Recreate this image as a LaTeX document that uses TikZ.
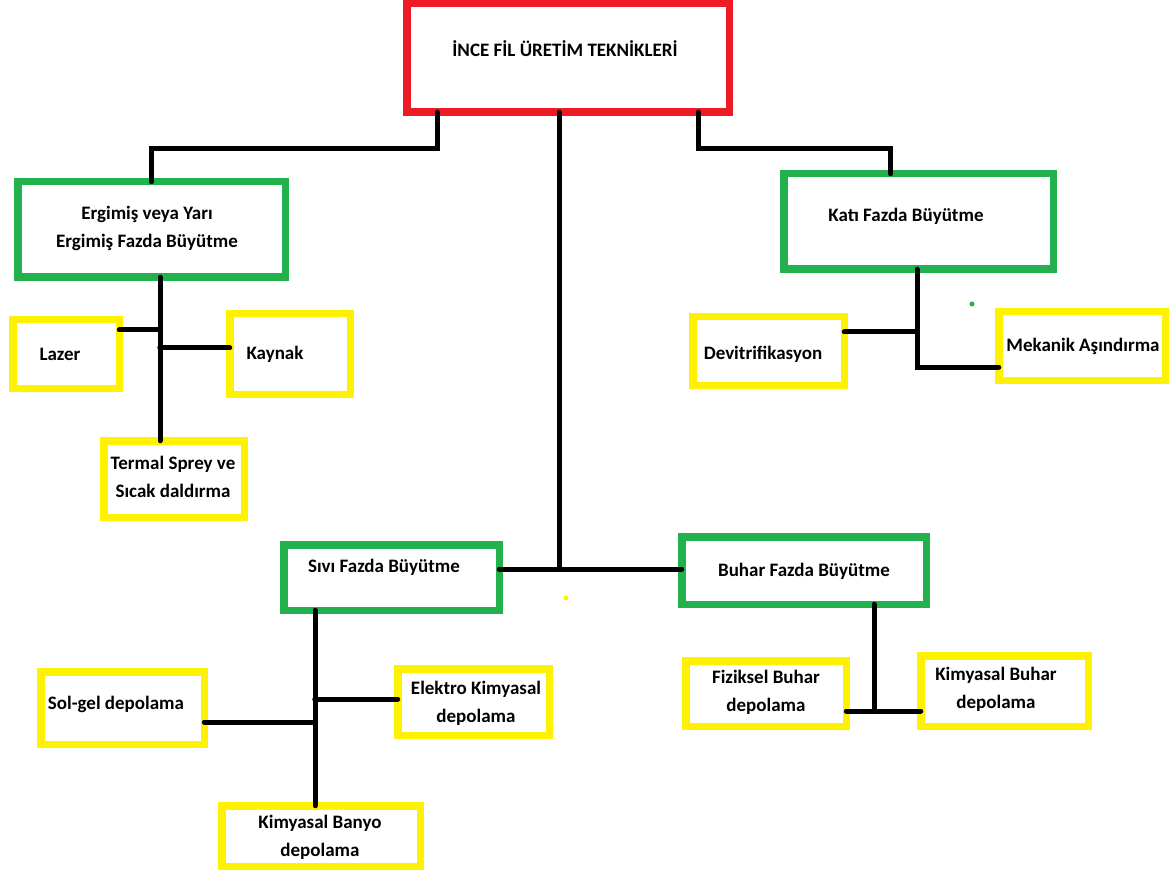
\documentclass[tikz,border=0pt]{standalone}
\usepackage{fontspec}
\setmainfont{Carlito}
\usepackage{xcolor}
\definecolor{pred}{HTML}{ED1C24}
\definecolor{pgreen}{HTML}{22B14C}
\definecolor{pyellow}{HTML}{FFF200}

\begin{document}
\begin{tikzpicture}[x=1pt, y=-1pt,
    bx/.style={rectangle, draw, line width=7.5pt, fill=white,
               outer sep=0pt, inner sep=0pt},
    rb/.style={bx, draw=pred},
    gb/.style={bx, draw=pgreen},
    yb/.style={bx, draw=pyellow},
    lbl/.style={font=\fontsize{19}{28}\selectfont\bfseries, align=center,
                inner sep=0pt},
    ln/.style={draw=black, line width=5pt, line cap=round}]
  \fill[white] (0,0) rectangle (1172,874);
  \useasboundingbox (0,0) rectangle (1172,874);

  % boxes
  \node[rb, minimum width=322.5pt, minimum height=108.5pt] (root) at (568,58) {};
  \node[gb, minimum width=267.5pt, minimum height=95.5pt] (ergimis) at (151.5,229.5) {};
  \node[gb, minimum width=269.5pt, minimum height=95.5pt] (kati) at (918.5,221.5) {};
  \node[gb, minimum width=215.5pt, minimum height=65.5pt] (sivi) at (391.5,577.5) {};
  \node[gb, minimum width=244.5pt, minimum height=67.5pt] (buhar) at (804,570.5) {};
  \node[yb, minimum width=106.5pt, minimum height=68.5pt] (lazer) at (66,354) {};
  \node[yb, minimum width=120.5pt, minimum height=80.5pt] (kaynak) at (290,354) {};
  \node[yb, minimum width=140.5pt, minimum height=76.5pt] (termal) at (174,479) {};
  \node[yb, minimum width=151.5pt, minimum height=68.5pt] (devit) at (768.5,351) {};
  \node[yb, minimum width=166.5pt, minimum height=68.5pt] (mekanik) at (1082,346) {};
  \node[yb, minimum width=160.5pt, minimum height=65.5pt] (fiziksel) at (766,693.5) {};
  \node[yb, minimum width=167.5pt, minimum height=70.5pt] (kbuhar) at (1004.5,691) {};
  \node[yb, minimum width=163.5pt, minimum height=72.5pt] (solgel) at (122.5,708) {};
  \node[yb, minimum width=151.5pt, minimum height=66.5pt] (elektro) at (473.5,702) {};
  \node[yb, minimum width=198.5pt, minimum height=60.5pt] (banyo) at (321,836) {};

  % texts
  \foreach \n/\p/\t in {
      root/{565,49}/{İNCE FİL ÜRETİM TEKNİKLERİ},
      ergimis/{147,228}/{Ergimiş veya Yarı\\Ergimiş Fazda Büyütme},
      kati/{906,216}/{Katı Fazda Büyütme},
      sivi/{384,567}/{Sıvı Fazda Büyütme},
      buhar/{804,571}/{Buhar Fazda Büyütme},
      lazer/{60,354}/{Lazer},
      kaynak/{275,354}/{Kaynak},
      termal/{173,477}/{Termal Sprey ve\\Sıcak daldırma},
      devit/{763,354}/{Devitrifikasyon},
      mekanik/{1083,346}/{Mekanik Aşındırma},
      fiziksel/{766,692}/{Fiziksel Buhar\\depolama},
      kbuhar/{996,689}/{Kimyasal Buhar\\depolama},
      solgel/{116,704}/{Sol-gel depolama},
      elektro/{476,703}/{Elektro Kimyasal\\depolama},
      banyo/{320,837}/{Kimyasal Banyo\\depolama}}
    \node[lbl] (\n-t) at (\p) {\t};

  % connectors
  \draw[ln] ([xshift=-131pt]root.south) -- ++(0,36) -| (ergimis.north);
  \draw[ln] ([xshift=130pt]root.south) -- ++(0,36) -| ([xshift=-28pt]kati.north);
  \coordinate (hub) at (559,569);
  \draw[ln] ([xshift=-9pt]root.south) -- (hub);
  \draw[ln] (sivi.east |- hub) -- (buhar.west |- hub);

  \draw[ln] ([xshift=8.5pt]ergimis.south) -- ([xshift=-14pt]termal.north);
  \draw[ln] ([yshift=24pt]lazer.east) -- ++(41,0);
  \draw[ln] ([yshift=6pt]kaynak.west) -- ++(-70,0);

  \draw[ln] ([xshift=-1.5pt]kati.south) |- ([yshift=-21pt]mekanik.west);
  \draw[ln] ([yshift=19pt]devit.east) -- ++(73,0);

  \draw[ln] ([xshift=-76.5pt]sivi.south) -- ([xshift=-6pt]banyo.north);
  \draw[ln] ([yshift=3pt]elektro.west) -- ++(-83,0);
  \draw[ln] ([yshift=-14pt]solgel.east) -- ++(111,0);

  \draw[ln] ([xshift=70pt]buhar.south) -- ++(0,107);
  \draw[ln] ([yshift=-17.5pt]fiziksel.east) -- ++(74.5,0);

  \fill[pgreen] (972,304) circle[radius=2.5];
  \fill[pyellow] (566,598) circle[radius=2.5];
\end{tikzpicture}
\end{document}
